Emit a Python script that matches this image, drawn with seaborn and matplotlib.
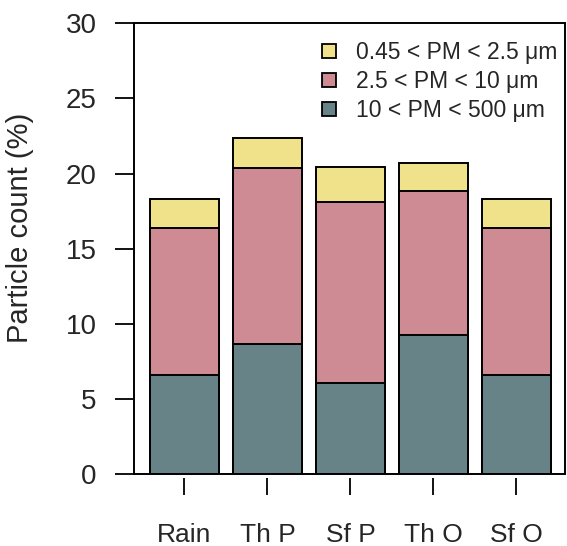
import matplotlib
matplotlib.use("Agg")
import matplotlib.pyplot as plt
from matplotlib.patches import Patch
import seaborn as sns
import pandas as pd

# Particle size fractions per sample type
sites = ["Rain", "Th P", "Sf P", "Th O", "Sf O"]
coarse = [6.6, 8.65, 6.08, 9.23, 6.6]        # 10 < PM < 500 um
medium = [9.8, 11.71, 12.02, 9.62, 9.77]     # 2.5 < PM < 10 um
fine = [1.9, 2.0, 2.35, 1.82, 1.91]          # 0.45 < PM < 2.5 um
labels = ["0.45 < PM < 2.5 \u03bcm", "2.5 < PM < 10 \u03bcm", "10 < PM < 500 \u03bcm"]
yticks = [0, 5, 10, 15, 20, 25, 30]

c_fine = "#F0E28A"
c_medium = "#CE8B94"
c_coarse = "#688387"

sns.set_style("white")
plt.rcParams["font.family"] = ["Liberation Sans", "DejaVu Sans"]

df = pd.DataFrame({"site": sites, "coarse": coarse, "medium": medium, "fine": fine})
df["lvl2"] = df["coarse"] + df["medium"]
df["lvl3"] = df["lvl2"] + df["fine"]

fig = plt.figure(figsize=(5.67, 5.46), dpi=100)
ax = fig.add_axes([0.2363, 0.1319, 0.7601, 0.8254])

bar_kw = dict(edgecolor="black", linewidth=1.4, width=0.833, order=sites, ax=ax)
sns.barplot(data=df, x="site", y="lvl3", color=c_fine, saturation=1, **bar_kw)
sns.barplot(data=df, x="site", y="lvl2", color=c_medium, saturation=1, **bar_kw)
sns.barplot(data=df, x="site", y="coarse", color=c_coarse, saturation=1, **bar_kw)

ax.set_xlim(-0.608, 4.585)
ax.set_ylim(0, 30)
ax.set_yticks(yticks)
ax.set_yticklabels([str(t) for t in yticks])

for s in ["left", "top", "right"]:
    ax.spines[s].set_visible(True)
    ax.spines[s].set_color("black")
    ax.spines[s].set_linewidth(1.4)
# x ticks hang slightly below the frame
ax.spines["bottom"].set_position(("outward", 3))
ax.spines["bottom"].set_visible(False)
ax.axhline(0, color="black", linewidth=1.4, clip_on=False, zorder=5)

ax.tick_params(axis="y", direction="out", length=14, width=1.3, pad=13,
               labelsize=20, left=True, color="black")
ax.tick_params(axis="x", direction="out", length=12.5, width=1.3, pad=20,
               labelsize=19, bottom=True, color="black")

ax.set_xlabel("")
ax.set_ylabel("Particle count (%)", fontsize=21)
ax.yaxis.set_label_coords(-0.232, 0.545)

handles = [Patch(facecolor=c, edgecolor="black", linewidth=1.3)
           for c in (c_fine, c_medium, c_coarse)]
ax.legend(handles, labels, loc="upper right", bbox_to_anchor=(1.0, 0.978),
          frameon=False, fontsize=16.5, handlelength=0.6, handleheight=0.6,
          handletextpad=0.85, labelspacing=0.26, borderaxespad=0.15, borderpad=0.2)

fig.savefig("out.png", dpi=100)
